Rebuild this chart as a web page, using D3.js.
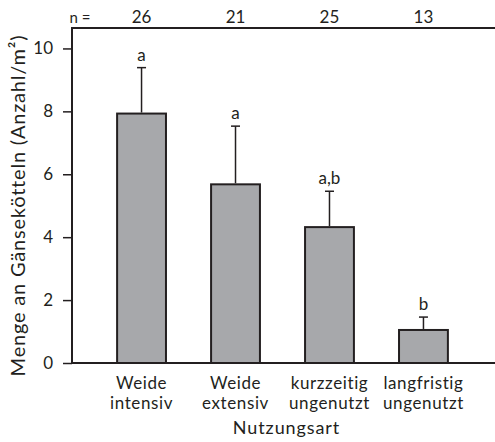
<!DOCTYPE html>
<html>
<head>
<meta charset="utf-8">
<script src="https://cdn.jsdelivr.net/npm/d3@7"></script>
<style>
  html, body { margin: 0; padding: 0; background: #fff; }
  svg { display: block; }
  text { font-family: Lato, "Open Sans", sans-serif; fill: #231f20; }
</style>
</head>
<body>
<svg id="chart" width="495" height="442"></svg>
<script>
const categories = [["Weide", "intensiv"], ["Weide", "extensiv"], ["kurzzeitig", "ungenutzt"], ["langfristig", "ungenutzt"]];
const means = [7.93, 5.68, 4.32, 1.05];
const errTops = [9.39, 7.53, 5.46, 1.46];
const letters = ["a", "a", "a,b", "b"];
const nValues = [26, 21, 25, 13];
const yTicks = [0, 2, 4, 6, 8, 10];
const yTitle = "Menge an Gänsekötteln (Anzahl/m²)";
const xTitle = "Nutzungsart";

const svg = d3.select("#chart");
const ink = "#231f20";
const mLeft = 72, mRight = 495, mTop = 28, mBottom = 363;

const keys = categories.map((c, i) => i);
const x = d3.scaleBand().domain(keys).range([mLeft, mRight - 2]).paddingInner(0.48).paddingOuter(0.48);
const y = d3.scaleLinear().domain([0, 10.65]).range([mBottom, mTop]);

// bars
svg.append("g").selectAll("rect").data(keys).join("rect")
  .attr("x", i => x(i))
  .attr("y", i => y(means[i]))
  .attr("width", x.bandwidth())
  .attr("height", i => y(0) - y(means[i]))
  .attr("fill", "#a7a8ab")
  .attr("stroke", ink)
  .attr("stroke-width", 2);

// error bars
const eg = svg.append("g").attr("stroke", ink).attr("stroke-width", 1.5);
keys.forEach(i => {
  const cx = x(i) + x.bandwidth() / 2;
  eg.append("line").attr("x1", cx).attr("x2", cx).attr("y1", y(means[i]) - 1).attr("y2", y(errTops[i]));
  eg.append("line").attr("x1", cx - 4.5).attr("x2", cx + 4.5).attr("y1", y(errTops[i])).attr("y2", y(errTops[i]));
});

// significance letters
svg.append("g").selectAll("text").data(keys).join("text")
  .attr("x", i => x(i) + x.bandwidth() / 2)
  .attr("y", i => y(errTops[i]) - 7)
  .attr("text-anchor", "middle")
  .attr("font-size", 17)
  .text(i => letters[i]);

// y axis
const yAxis = svg.append("g").attr("transform", `translate(${mLeft},0)`)
  .call(d3.axisLeft(y).tickValues(yTicks).tickSize(9).tickPadding(10).tickFormat(d3.format("d")));
yAxis.select(".domain").remove();
yAxis.selectAll(".tick line").attr("stroke", ink).attr("stroke-width", 1.5);
yAxis.selectAll(".tick text").attr("font-size", 17).attr("font-family", "Lato, sans-serif").attr("fill", ink);

// frame lines: left, top, bottom
svg.append("line").attr("x1", mLeft).attr("x2", mLeft).attr("y1", mTop).attr("y2", mBottom).attr("stroke", ink).attr("stroke-width", 2);
svg.append("line").attr("x1", mLeft - 1).attr("x2", mRight).attr("y1", mTop).attr("y2", mTop).attr("stroke", ink).attr("stroke-width", 2);
svg.append("line").attr("x1", mLeft - 1).attr("x2", mRight).attr("y1", mBottom).attr("y2", mBottom).attr("stroke", ink).attr("stroke-width", 2);

// x category labels
const xl = svg.append("g");
keys.forEach(i => {
  const cx = x(i) + x.bandwidth() / 2;
  categories[i].forEach((line, j) => {
    xl.append("text").attr("x", cx).attr("y", 389 + j * 20)
      .attr("text-anchor", "middle").attr("font-size", 17).attr("letter-spacing", 0.6).text(line);
  });
});

// x title
svg.append("text").attr("x", (mLeft + mRight) / 2 + 3).attr("y", 434)
  .attr("text-anchor", "middle").attr("font-size", 18).attr("letter-spacing", 0.9).text(xTitle);

// y title
svg.append("text").attr("transform", `translate(25,${(mTop + mBottom) / 2 + 10}) rotate(-90)`)
  .attr("text-anchor", "middle").attr("font-size", 20).attr("letter-spacing", 0.8).text(yTitle);

// n row
svg.append("text").attr("x", 80).attr("y", 23).attr("text-anchor", "middle").attr("font-size", 15).text("n =");
svg.append("g").selectAll("text").data(keys).join("text")
  .attr("x", i => x(i) + x.bandwidth() / 2)
  .attr("y", 23)
  .attr("text-anchor", "middle")
  .attr("font-size", 17)
  .text(i => nValues[i]);
</script>
</body>
</html>
